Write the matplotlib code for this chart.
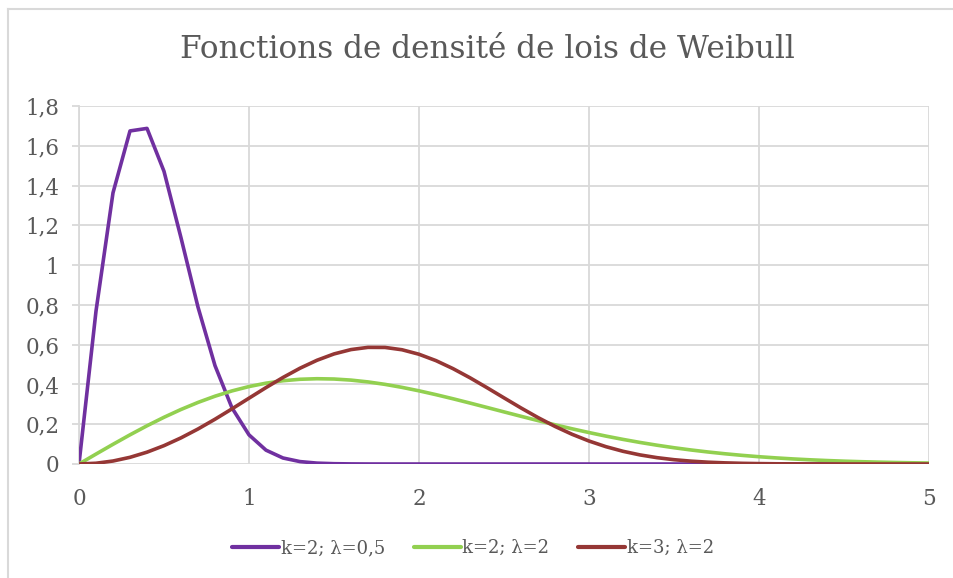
import matplotlib.pyplot as plt
from matplotlib.lines import Line2D

x = [i / 10 for i in range(51)]

# k=2, lambda=0.5
purple = [0, 0.7686, 1.3634, 1.6746, 1.6874, 1.4715, 1.1373, 0.7888, 0.4947, 0.2820,
          0.1465, 0.0696, 0.0302, 0.0121, 0.0044, 0.0015, 0.0005, 0.0001, 0, 0,
          0, 0, 0, 0, 0, 0, 0, 0, 0, 0,
          0, 0, 0, 0, 0, 0, 0, 0, 0, 0,
          0, 0, 0, 0, 0, 0, 0, 0, 0, 0, 0]
# k=2, lambda=2
green = [0, 0.0499, 0.0990, 0.1467, 0.1922, 0.2349, 0.2742, 0.3096, 0.3409, 0.3675,
         0.3894, 0.4064, 0.4186, 0.4260, 0.4288, 0.4273, 0.4218, 0.4127, 0.4004, 0.3853,
         0.3679, 0.3486, 0.3280, 0.3064, 0.2843, 0.2620, 0.2399, 0.2182, 0.1972, 0.1771,
         0.1581, 0.1402, 0.1237, 0.1084, 0.0945, 0.0818, 0.0705, 0.0604, 0.0514, 0.0435,
         0.0366, 0.0307, 0.0255, 0.0211, 0.0174, 0.0142, 0.0116, 0.0094, 0.0076, 0.0061, 0.0048]
# k=3, lambda=2
red = [0, 0.0038, 0.0150, 0.0336, 0.0595, 0.0923, 0.1314, 0.1760, 0.2251, 0.2773,
       0.3309, 0.3842, 0.4351, 0.4816, 0.5216, 0.5534, 0.5753, 0.5864, 0.5861, 0.5744,
       0.5518, 0.5197, 0.4795, 0.4335, 0.3837, 0.3325, 0.2818, 0.2335, 0.1890, 0.1495,
       0.1155, 0.0870, 0.0639, 0.0457, 0.0319, 0.0216, 0.0143, 0.0091, 0.0057, 0.0034,
       0.0020, 0.0011, 0.0006, 0.0003, 0.0002, 0.0001, 0, 0, 0, 0, 0]

labels = ["k=2; λ=0,5", "k=2; λ=2", "k=3; λ=2"]
colors = ["#7030A0", "#92D050", "#953735"]
xticks = [0, 1, 2, 3, 4, 5]
yticks = [0, 0.2, 0.4, 0.6, 0.8, 1, 1.2, 1.4, 1.6, 1.8]
ytick_labels = ["0", "0,2", "0,4", "0,6", "0,8", "1", "1,2", "1,4", "1,6", "1,8"]

plt.rcParams["font.family"] = ["DejaVu Serif"]
txt = "#595959"
grid = "#D9D9D9"

W, H = 954, 578
fig = plt.figure(figsize=(W / 100, H / 100), dpi=100)
ax = fig.add_axes([79 / W, 1 - 464 / H, 850 / W, 358 / H])

for ys, c in zip([purple, green, red], colors):
    ax.plot(x, ys, color=c, lw=2.6, solid_joinstyle="round", solid_capstyle="round", zorder=3)

ax.set_xlim(0, 5)
ax.set_ylim(0, 1.8)
ax.set_xticks(xticks)
ax.set_xticklabels([str(t) for t in xticks])
ax.set_yticks(yticks)
ax.set_yticklabels(ytick_labels)
ax.grid(True, color=grid, lw=1.3, zorder=0)
for s in ["top", "right", "bottom"]:
    ax.spines[s].set_visible(False)
ax.spines["left"].set_color(grid)
ax.spines["left"].set_linewidth(1.3)
ax.tick_params(axis="y", length=5, width=1.3, color=grid, labelcolor=txt, labelsize=15.5, pad=9)
ax.tick_params(axis="x", length=0, labelcolor=txt, labelsize=15.5, pad=17)

fig.text(487 / W, 1 - 50 / H, "Fonctions de densité de lois de Weibull",
         ha="center", va="center", fontsize=22.4, color=txt)

handles = [Line2D([0], [0], color=c, lw=3, solid_capstyle="round") for c in colors]
fig.legend(handles, labels, loc="center", bbox_to_anchor=(473 / W, 1 - 548 / H), ncol=3,
           frameon=False, fontsize=13, labelcolor=txt, handlelength=2.6,
           handletextpad=0.1, columnspacing=1.6)

# chart frame: left and top edges
fig.add_artist(Line2D([8.5 / W, 8.5 / W], [0, 1 - 9 / H], color=grid, lw=1.5))
fig.add_artist(Line2D([8.5 / W, 1], [1 - 9 / H, 1 - 9 / H], color=grid, lw=1.5))

fig.savefig("out.png", dpi=100, facecolor="white")
